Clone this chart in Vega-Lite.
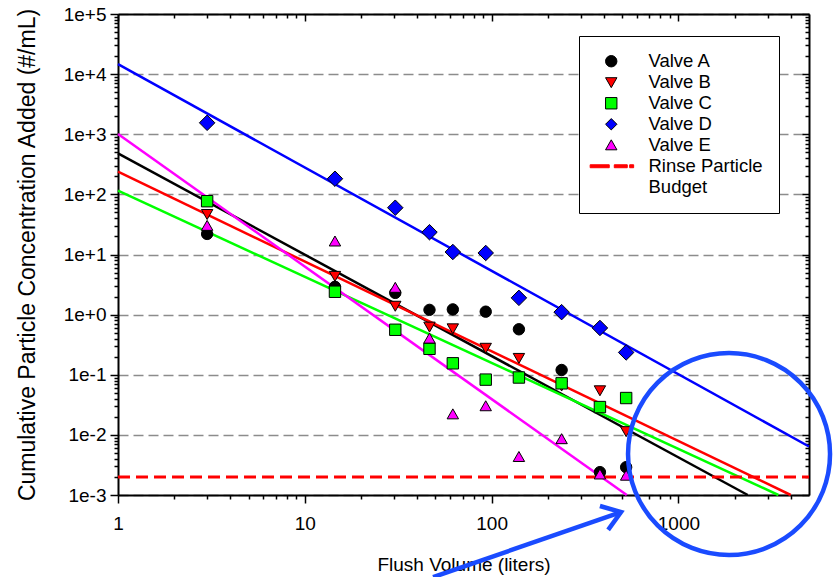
{
  "$schema": "https://vega.github.io/schema/vega-lite/v6.json",
  "width": 691,
  "height": 481,
  "autosize": {"type": "none"},
  "padding": {"left": 118, "top": 14, "right": 28, "bottom": 82},
  "background": "white",
  "config": {
    "view": {"stroke": null},
    "font": "Liberation Sans",
    "axis": {
      "labelFont": "Liberation Sans",
      "titleFont": "Liberation Sans",
      "labelColor": "#000000",
      "titleColor": "#000000",
      "titleFontWeight": "normal",
      "tickColor": "#000000",
      "domainColor": "#000000",
      "labelFlush": false,
      "labelOverlap": false,
      "labelBound": false
    }
  },
  "datasets": {
    "points": [
      {"series": "Valve A", "flush": 3, "conc": 22},
      {"series": "Valve A", "flush": 14.5, "conc": 2.9},
      {"series": "Valve A", "flush": 30.5, "conc": 2.3},
      {"series": "Valve A", "flush": 46.5, "conc": 1.2},
      {"series": "Valve A", "flush": 62, "conc": 1.22},
      {"series": "Valve A", "flush": 93, "conc": 1.12},
      {"series": "Valve A", "flush": 140, "conc": 0.57},
      {"series": "Valve A", "flush": 237, "conc": 0.12},
      {"series": "Valve A", "flush": 380, "conc": 0.0024},
      {"series": "Valve A", "flush": 525, "conc": 0.0029},
      {"series": "Valve B", "flush": 3, "conc": 47},
      {"series": "Valve B", "flush": 14.5, "conc": 4.4},
      {"series": "Valve B", "flush": 30.5, "conc": 1.4},
      {"series": "Valve B", "flush": 46.5, "conc": 0.63},
      {"series": "Valve B", "flush": 62, "conc": 0.59},
      {"series": "Valve B", "flush": 93, "conc": 0.28},
      {"series": "Valve B", "flush": 140, "conc": 0.19},
      {"series": "Valve B", "flush": 237, "conc": 0.066},
      {"series": "Valve B", "flush": 380, "conc": 0.055},
      {"series": "Valve B", "flush": 525, "conc": 0.0115},
      {"series": "Valve C", "flush": 3, "conc": 77},
      {"series": "Valve C", "flush": 14.5, "conc": 2.4},
      {"series": "Valve C", "flush": 30.5, "conc": 0.56},
      {"series": "Valve C", "flush": 46.5, "conc": 0.27},
      {"series": "Valve C", "flush": 62, "conc": 0.155},
      {"series": "Valve C", "flush": 93, "conc": 0.083},
      {"series": "Valve C", "flush": 140, "conc": 0.09},
      {"series": "Valve C", "flush": 237, "conc": 0.072},
      {"series": "Valve C", "flush": 380, "conc": 0.029},
      {"series": "Valve C", "flush": 525, "conc": 0.041},
      {"series": "Valve D", "flush": 3, "conc": 1550},
      {"series": "Valve D", "flush": 14.5, "conc": 182},
      {"series": "Valve D", "flush": 30.5, "conc": 60},
      {"series": "Valve D", "flush": 46.5, "conc": 23.5},
      {"series": "Valve D", "flush": 62, "conc": 11},
      {"series": "Valve D", "flush": 93, "conc": 10.6},
      {"series": "Valve D", "flush": 140, "conc": 1.9},
      {"series": "Valve D", "flush": 237, "conc": 1.1},
      {"series": "Valve D", "flush": 380, "conc": 0.6},
      {"series": "Valve D", "flush": 525, "conc": 0.235},
      {"series": "Valve E", "flush": 3, "conc": 30},
      {"series": "Valve E", "flush": 14.5, "conc": 16.5},
      {"series": "Valve E", "flush": 30.5, "conc": 2.8},
      {"series": "Valve E", "flush": 46.5, "conc": 0.4},
      {"series": "Valve E", "flush": 62, "conc": 0.022},
      {"series": "Valve E", "flush": 93, "conc": 0.03},
      {"series": "Valve E", "flush": 140, "conc": 0.0043},
      {"series": "Valve E", "flush": 237, "conc": 0.0085},
      {"series": "Valve E", "flush": 380, "conc": 0.0022},
      {"series": "Valve E", "flush": 525, "conc": 0.0021}
    ],
    "fits": [
      {"series": "Valve A", "flush": 1, "conc": 482},
      {"series": "Valve A", "flush": 2350, "conc": 0.001},
      {"series": "Valve B", "flush": 1, "conc": 238},
      {"series": "Valve B", "flush": 3990, "conc": 0.001},
      {"series": "Valve C", "flush": 1, "conc": 115},
      {"series": "Valve C", "flush": 3427, "conc": 0.001},
      {"series": "Valve D", "flush": 1, "conc": 14700},
      {"series": "Valve D", "flush": 5000, "conc": 0.0064},
      {"series": "Valve E", "flush": 1, "conc": 1009},
      {"series": "Valve E", "flush": 529, "conc": 0.001}
    ],
    "budget": [
      {"series": "Rinse Particle Budget", "from": 1, "to": 5000, "conc": 0.002}
    ],
    "circle": [
      {"flush": 1866, "conc": 0.0048}
    ],
    "arrow": [
      {"flush": 48.6, "conc": 0.000043, "flushEnd": 493, "concEnd": 0.00052}
    ]
  },
  "resolve": {"axis": {"x": "independent", "y": "independent"}},
  "layer": [
    {
      "data": {"name": "fits"},
      "mark": {"type": "line", "strokeWidth": 2.5},
      "encoding": {
        "x": {
          "field": "flush", "type": "quantitative",
          "scale": {"type": "log", "domain": [1, 5000], "nice": false},
          "axis": {
            "orient": "bottom", "values": [1, 10, 100, 1000], "format": "d",
            "tickSize": 8, "tickWidth": 1.5, "domainWidth": 2,
            "labelFontSize": 19, "labelPadding": 11,
            "title": "Flush Volume (liters)", "titleFontSize": 19, "titlePadding": 22,
            "grid": false
          }
        },
        "y": {
          "field": "conc", "type": "quantitative",
          "scale": {"type": "log", "domain": [0.001, 100000], "nice": false},
          "axis": {
            "orient": "left",
            "values": [0.001, 0.01, 0.1, 1, 10, 100, 1000, 10000, 100000],
            "format": ".0e",
            "tickSize": 8, "tickWidth": 1.5, "domainWidth": 2,
            "labelFontSize": 19, "labelPadding": 4,
            "title": "Cumulative Particle Concentration Added (#/mL)",
            "titleFontSize": 23, "titlePadding": 24,
            "grid": true, "gridColor": "#8c8c8c", "gridDash": [10, 5], "gridWidth": 1.5
          }
        },
        "color": {
          "field": "series", "type": "nominal",
          "scale": {
            "domain": ["Valve A", "Valve B", "Valve C", "Valve D", "Valve E"],
            "range": ["#000000", "#ff0000", "#00ff00", "#0000ff", "#ff00ff"]
          },
          "legend": null
        }
      }
    },
    {
      "data": {"name": "budget"},
      "mark": {"type": "rule", "color": "#ff0000", "strokeWidth": 3, "strokeDash": [12, 6]},
      "encoding": {
        "x": {
          "field": "from", "type": "quantitative",
          "axis": {
            "orient": "bottom",
            "values": [2, 3, 4, 5, 6, 7, 8, 9, 20, 30, 40, 50, 60, 70, 80, 90, 200, 300, 400, 500, 600, 700, 800, 900, 2000, 3000, 4000],
            "labels": false, "tickSize": 4, "tickWidth": 1.5, "domain": false, "grid": false, "title": null
          }
        },
        "x2": {"field": "to"},
        "y": {
          "field": "conc", "type": "quantitative",
          "axis": {
            "orient": "left",
            "values": [0.002, 0.003, 0.004, 0.005, 0.006, 0.007, 0.008, 0.009, 0.02, 0.03, 0.04, 0.05, 0.06, 0.07, 0.08, 0.09, 0.2, 0.3, 0.4, 0.5, 0.6, 0.7, 0.8, 0.9, 2, 3, 4, 5, 6, 7, 8, 9, 20, 30, 40, 50, 60, 70, 80, 90, 200, 300, 400, 500, 600, 700, 800, 900, 2000, 3000, 4000, 5000, 6000, 7000, 8000, 9000, 20000, 30000, 40000, 50000, 60000, 70000, 80000, 90000],
            "labels": false, "tickSize": 4, "tickWidth": 1.5, "domain": false, "grid": false, "title": null
          }
        }
      }
    },
    {
      "data": {"name": "points"},
      "mark": {"type": "point", "filled": true, "opacity": 1, "strokeWidth": 1},
      "encoding": {
        "x": {
          "field": "flush", "type": "quantitative",
          "axis": {
            "orient": "top", "values": [1, 10, 100, 1000],
            "labels": false, "tickSize": -7, "tickWidth": 1.5, "domainWidth": 2, "grid": false, "title": null
          }
        },
        "y": {
          "field": "conc", "type": "quantitative",
          "axis": {
            "orient": "right",
            "values": [0.001, 0.01, 0.1, 1, 10, 100, 1000, 10000, 100000],
            "labels": false, "tickSize": -7, "tickWidth": 1.5, "domainWidth": 2, "grid": false, "title": null
          }
        },
        "fill": {
          "field": "series", "type": "nominal",
          "scale": {
            "domain": ["Valve A", "Valve B", "Valve C", "Valve D", "Valve E", "Rinse Particle Budget"],
            "range": ["#000000", "#ff0000", "#00ff00", "#0000ff", "#ff00ff", "#ff0000"]
          },
          "legend": {
            "title": null,
            "orient": "none",
            "legendX": 461,
            "legendY": 22,
            "strokeColor": "#000000",
            "fillColor": "#ffffff",
            "padding": 16,
            "symbolSize": 130,
            "symbolStrokeWidth": 1,
            "symbolOpacity": 1,
            "symbolOffset": 7,
            "labelOffset": 28,
            "labelFont": "Liberation Sans",
            "labelFontSize": 18.5,
            "labelColor": "#000000",
            "labelLimit": 300,
            "rowPadding": 2,
            "labelExpr": "datum.label === 'Rinse Particle Budget' ? ['Rinse Particle', 'Budget'] : datum.label"
          }
        },
        "stroke": {
          "field": "series", "type": "nominal",
          "scale": {
            "domain": ["Valve A", "Valve B", "Valve C", "Valve D", "Valve E", "Rinse Particle Budget"],
            "range": ["#000000", "#000000", "#000000", "#000000", "#000000", "#ff0000"]
          }
        },
        "shape": {
          "field": "series", "type": "nominal",
          "scale": {
            "domain": ["Valve A", "Valve B", "Valve C", "Valve D", "Valve E", "Rinse Particle Budget"],
            "range": [
              "M-6.3,0L-6.3,0M1,0A1,1,0,1,1,-1,0A1,1,0,1,1,1,0Z",
              "M-6.3,0L-6.3,0M0,0.95L1,-0.8L-1,-0.8Z",
              "M-6.3,0L-6.3,0M-1,-1H1V1H-1Z",
              "M-6.3,0L-6.3,0M0,-1L1,0L0,1L-1,0Z",
              "M-6.3,0L-6.3,0M0,-0.95L1,0.8L-1,0.8Z",
              "M-3.7,-0.26H-0.35V0.26H-3.7Z M0.53,-0.26H2.81V0.26H0.53Z M3.23,-0.26H3.93V0.26H3.23Z"
            ]
          }
        },
        "size": {"condition": {"test": "datum.series === 'Valve D'", "value": 240}, "value": 130}
      }
    },
    {
      "data": {"name": "circle"},
      "mark": {"type": "point", "shape": "circle", "filled": false, "stroke": "#1a4bff", "strokeWidth": 4.5, "opacity": 1, "size": 40804},
      "encoding": {
        "x": {
          "field": "flush", "type": "quantitative",
          "axis": {
            "orient": "top",
            "values": [2, 3, 4, 5, 6, 7, 8, 9, 20, 30, 40, 50, 60, 70, 80, 90, 200, 300, 400, 500, 600, 700, 800, 900, 2000, 3000, 4000],
            "labels": false, "tickSize": -4, "tickWidth": 1.5, "domain": false, "grid": false, "title": null
          }
        },
        "y": {
          "field": "conc", "type": "quantitative",
          "axis": {
            "orient": "right",
            "values": [0.002, 0.003, 0.004, 0.005, 0.006, 0.007, 0.008, 0.009, 0.02, 0.03, 0.04, 0.05, 0.06, 0.07, 0.08, 0.09, 0.2, 0.3, 0.4, 0.5, 0.6, 0.7, 0.8, 0.9, 2, 3, 4, 5, 6, 7, 8, 9, 20, 30, 40, 50, 60, 70, 80, 90, 200, 300, 400, 500, 600, 700, 800, 900, 2000, 3000, 4000, 5000, 6000, 7000, 8000, 9000, 20000, 30000, 40000, 50000, 60000, 70000, 80000, 90000],
            "labels": false, "tickSize": -4, "tickWidth": 1.5, "domain": false, "grid": false, "title": null
          }
        }
      }
    },
    {
      "data": {"name": "arrow"},
      "mark": {"type": "rule", "color": "#1a4bff", "strokeWidth": 4.5},
      "encoding": {
        "x": {"field": "flush", "type": "quantitative", "axis": null},
        "y": {"field": "conc", "type": "quantitative", "axis": null},
        "x2": {"field": "flushEnd"},
        "y2": {"field": "concEnd"}
      }
    },
    {
      "data": {"name": "arrow"},
      "mark": {"type": "point", "shape": "M-1,-0.7L0,0L-1,0.7", "filled": false, "stroke": "#1a4bff", "strokeWidth": 4.5, "opacity": 1, "size": 1296, "strokeJoin": "miter"},
      "encoding": {
        "x": {"field": "flushEnd", "type": "quantitative", "axis": null},
        "y": {"field": "concEnd", "type": "quantitative", "axis": null},
        "angle": {"value": 341}
      }
    }
  ]
}
